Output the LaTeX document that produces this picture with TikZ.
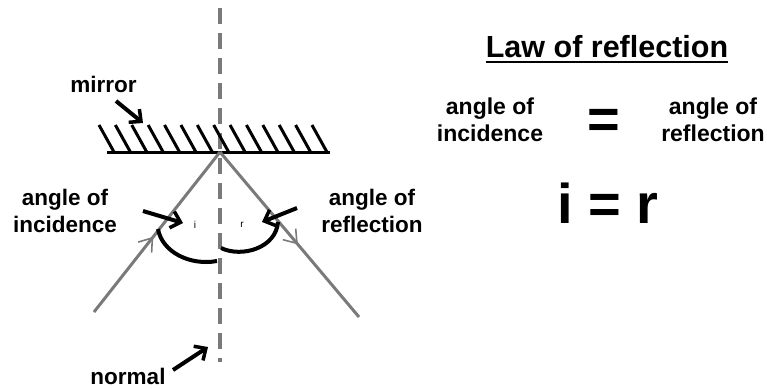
\documentclass[tikz,border=0pt]{standalone}
\usepackage{fontspec}
\setmainfont{Liberation Sans}
\usetikzlibrary{arrows.meta,decorations.markings}
\definecolor{raygray}{HTML}{7A7A7A}
\tikzset{
  lbl/.style={font=\bfseries\fontsize{22.5}{27}\selectfont, inner sep=0pt, align=center},
  ray/.style={draw=raygray, line width=3pt},
  pointer/.style={line width=4pt, -{Straight Barb[length=9pt,width=17pt,line width=3.5pt]}},
  anglearc/.style={line width=4pt},
  hatch/.style={line width=3pt},
  tiny/.style={font=\fontsize{10}{11}\selectfont, inner sep=0pt},
  chev/.style={postaction={decorate, decoration={markings,
     mark=at position #1 with {\arrow[raygray,line width=1.6pt]{Straight Barb[length=12pt,width=17pt]}}}}}
}
\begin{document}
\begin{tikzpicture}[x=1pt,y=-1pt]
\useasboundingbox (0,0) rectangle (767,388);
% normal
\coordinate (ntop) at (220,8);
\coordinate (nbot) at (220,362);
\draw[draw=raygray, line width=3.5pt, dash pattern=on 16pt off 9pt] (ntop) -- (nbot);
% mirror
\coordinate (mL) at (107,152);
\coordinate (mR) at (330,152);
\draw[hatch] (mL) -- (mR);
\foreach \k in {0,...,13}{
  \draw[hatch] ({99+16.38*\k},125) -- ({114+16.38*\k},152);
}
% rays
\coordinate (P) at (220,152);
\coordinate (inS) at (94,312);
\coordinate (reE) at (359,317);
\draw[ray, chev=0.47] (inS) -- (P);
\draw[ray, chev=0.56] (P) -- (reE);
% angle arcs
\coordinate (a1) at (158,229);
\coordinate (a2) at (217,261);
\coordinate (b1) at (221,248);
\coordinate (b2) at (278,222);
\draw[anglearc] (a1) .. controls (162,252) and (190,266) .. (a2);
\draw[anglearc] (b1) .. controls (242,258) and (276,248) .. (b2);
% small labels
\node[tiny] (il) at (195,225) {i};
\node[tiny] (rl) at (242,225) {r};
% text labels
\node[lbl, anchor=base] (mirror) at (103.5,92) {mirror};
\node[lbl, anchor=base] (normal) at (128,384) {normal};
\node[lbl, anchor=north] (inc) at (65,188.5) {angle of\\incidence};
\node[lbl, anchor=north] (refl) at (372,188.5) {angle of\\reflection};
% pointers
\coordinate (mp1) at (116,101); \coordinate (mp2) at (143,123);
\coordinate (np1) at (173,370); \coordinate (np2) at (208,347);
\coordinate (ip1) at (143,211); \coordinate (ip2) at (183,223);
\coordinate (rp1) at (297,208); \coordinate (rp2) at (262,222);
\draw[pointer] (mp1) -- (mp2);
\draw[pointer] (np1) -- (np2);
\draw[pointer] (ip1) -- (ip2);
\draw[pointer] (rp1) -- (rp2);
% right side
\node[font=\bfseries\fontsize{30.5}{34}\selectfont, inner sep=0pt, anchor=base] (title) at (607,57) {Law of reflection};
\draw[line width=2.2pt] (title.base west) ++(0,5) coordinate (u1) -- (title.base east |- u1);
\node[lbl, anchor=north, font=\bfseries\fontsize{23}{27}\selectfont] (rinc) at (490,97.5) {angle of\\incidence};
\node[lbl, anchor=north, font=\bfseries\fontsize{23}{27}\selectfont] (rrefl) at (713,97.5) {angle of\\reflection};
\node[font=\bfseries\fontsize{56}{60}\selectfont, inner sep=0pt] (eq) at (604,124) {=};
\node[font=\bfseries\fontsize{56}{60}\selectfont, inner sep=0pt, anchor=base] (law) at (608,223) {i = r};
\end{tikzpicture}
\end{document}
